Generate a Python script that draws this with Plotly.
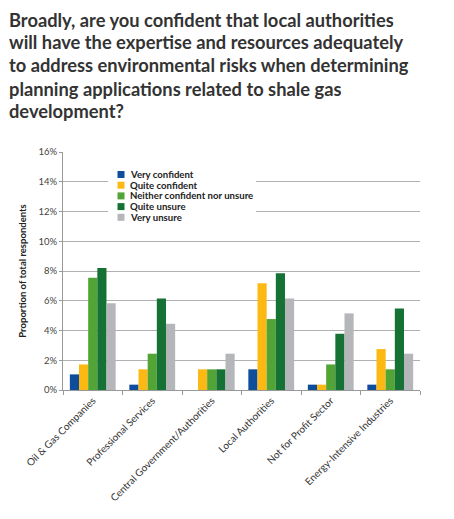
import plotly.graph_objects as go

# Sectors and share of respondents (%) per answer
sectors = ['Oil & Gas Companies', 'Professional Services', 'Central Government/Authorities',
           'Local Authorities', 'Not for Profit Sector', 'Energy-Intensive Industries']
very_confident = [1.05, 0.36, 0, 1.39, 0.36, 0.36]
quite_confident = [1.72, 1.39, 1.39, 7.18, 0.36, 2.75]
neither = [7.54, 2.44, 1.39, 4.77, 1.72, 1.39]
quite_unsure = [8.21, 6.15, 1.39, 7.85, 3.78, 5.48]
very_unsure = [5.84, 4.45, 2.44, 6.15, 5.15, 2.44]

series = [
    ('Very confident', very_confident, '#0e4c9c'),
    ('Quite confident', quite_confident, '#fcb813'),
    ('Neither confident nor unsure', neither, '#52a436'),
    ('Quite unsure', quite_unsure, '#167234'),
    ('Very unsure', very_unsure, '#b5b6ba'),
]

title_lines = ['Broadly, are you confident that local authorities',
               'will have the expertise and resources adequately',
               'to address environmental risks when determining',
               'planning applications related to shale gas',
               'development?']

# the page body adds an 8px margin, so positions below are page pixels minus 8
OFF = 8
W, H = 454, 519
L, T = 63 - OFF, 152 - OFF
R, B = W - (420 - OFF), H - (390 - OFF)
pw, ph = W - L - R, H - T - B


def px_x(p):
    return (p - OFF - L) / pw


def px_y(p):
    return 1 - (p - OFF - T) / ph


fig = go.Figure()
for name, vals, col in series:
    fig.add_bar(x=sectors, y=vals, name=name, marker=dict(color=col, line=dict(width=0)))

annotations = []
for i, line in enumerate(title_lines):
    annotations.append(dict(text=line, xref='paper', yref='paper', x=px_x(8), y=px_y(19 + i * 23),
                            xanchor='left', yanchor='middle', align='left', showarrow=False,
                            height=21, borderpad=0,
                            font=dict(size=18.3, color='#333', weight='bold')))

# hand-drawn legend: plotly's own legend rows are too tall here
shapes = [dict(type='rect', xref='paper', yref='paper', layer='above',
               x0=px_x(108), x1=px_x(256), y0=px_y(224), y1=px_y(165),
               fillcolor='white', line=dict(width=0))]
for i, (name, vals, col) in enumerate(series):
    cy = 174.5 + i * 10.7
    shapes.append(dict(type='rect', xref='paper', yref='paper', layer='above',
                       x0=px_x(117.5), x1=px_x(124.5), y0=px_y(cy + 3.5), y1=px_y(cy - 3.5),
                       fillcolor=col, line=dict(width=0)))
    annotations.append(dict(text=name, xref='paper', yref='paper', x=px_x(129), y=px_y(cy),
                            xanchor='left', yanchor='middle', showarrow=False, borderpad=0,
                            font=dict(size=9.6, color='#222', weight='bold')))

fig.update_layout(
    width=W, height=H,
    margin=dict(l=L, r=R, t=T, b=B),
    paper_bgcolor='white', plot_bgcolor='white',
    barmode='group', bargap=0.23, bargroupgap=0,
    font=dict(family='Lato', size=9, color='#444'),
    showlegend=False,
    shapes=shapes,
    annotations=annotations,
)

fig.update_yaxes(range=[0, 16], dtick=2, ticksuffix='%', showgrid=True, gridcolor='#b0b0b0',
                 showline=True, linecolor='#999', ticks='outside', ticklen=3, tickcolor='#999',
                 zeroline=False, automargin=False, tickfont=dict(size=9.5, color='#444'),
                 title=dict(text='Proportion of total respondents', standoff=10,
                            font=dict(size=9.5, color='#222', weight='bold')))
fig.update_xaxes(showline=True, linecolor='#999', ticks='outside', ticklen=4, tickcolor='#999',
                 tickson='boundaries', tickangle=-45, automargin=False,
                 tickfont=dict(size=10, color='#333'))

fig.write_html('out.html')
